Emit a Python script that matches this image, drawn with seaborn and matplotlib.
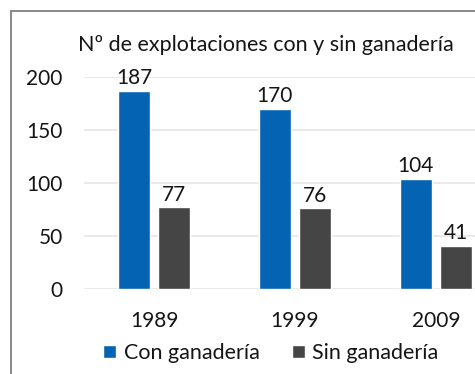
import matplotlib
matplotlib.use("Agg")
import matplotlib.pyplot as plt
from matplotlib.patches import Rectangle
import pandas as pd
import seaborn as sns

# Explotaciones agrarias por censo
years = ["1989", "1999", "2009"]
con_ganaderia = [187, 170, 104]
sin_ganaderia = [77, 76, 41]
series = ["Con ganadería", "Sin ganadería"]
colors = ["#0563B4", "#454545"]
title = "Nº de explotaciones con y sin ganadería"

df = pd.DataFrame({
    "year": years * 2,
    "value": con_ganaderia + sin_ganaderia,
    "serie": [series[0]] * len(years) + [series[1]] * len(years),
})

sns.set_theme(style="white")
plt.rcParams["font.family"] = ["Lato", "DejaVu Sans"]

W, H = 475, 374
TXT = "#151515"
fig = plt.figure(figsize=(W / 100, H / 100), dpi=100)
ax = fig.add_axes([83.5 / W, (H - 289) / H, 423 / W, 212 / H])

sns.barplot(data=df, x="year", y="value", hue="serie", palette=colors,
            width=0.57, gap=0.2, saturation=1, ax=ax, legend=True)

ax.set_ylim(0, 200)
ax.set_xlim(-0.5, 2.5)
ax.set_yticks([0, 50, 100, 150, 200])
ax.yaxis.grid(True, color="#e6e6e6", lw=1.2)
ax.set_axisbelow(True)
for s in ax.spines.values():
    s.set_visible(False)
ax.set_xlabel("")
ax.set_ylabel("")
ax.tick_params(axis="y", length=0, pad=15, labelsize=15, labelcolor=TXT)
ax.tick_params(axis="x", length=0, pad=16, labelsize=15, labelcolor=TXT)

for cont in ax.containers:
    ax.bar_label(cont, padding=2, fontsize=15, color=TXT)

handles, labels = ax.get_legend_handles_labels()
ax.get_legend().remove()
fig.legend(handles, labels, loc="center", bbox_to_anchor=(271 / W, (H - 353) / H),
           ncol=2, frameon=False, fontsize=15.5, handlelength=0.6, handleheight=0.6,
           handletextpad=0.35, columnspacing=1.5, labelcolor=TXT,
           borderaxespad=0, borderpad=0)

fig.text(266 / W, (H - 45) / H, title, ha="center", va="center", fontsize=15.5,
         color=TXT)

fig.patches.append(Rectangle((11 / W, -0.1), 1.2, (H - 11) / H + 0.1, fill=False,
                             edgecolor="#7f7f7f", lw=1.3, transform=fig.transFigure,
                             figure=fig))

fig.savefig("out.png", dpi=100)
